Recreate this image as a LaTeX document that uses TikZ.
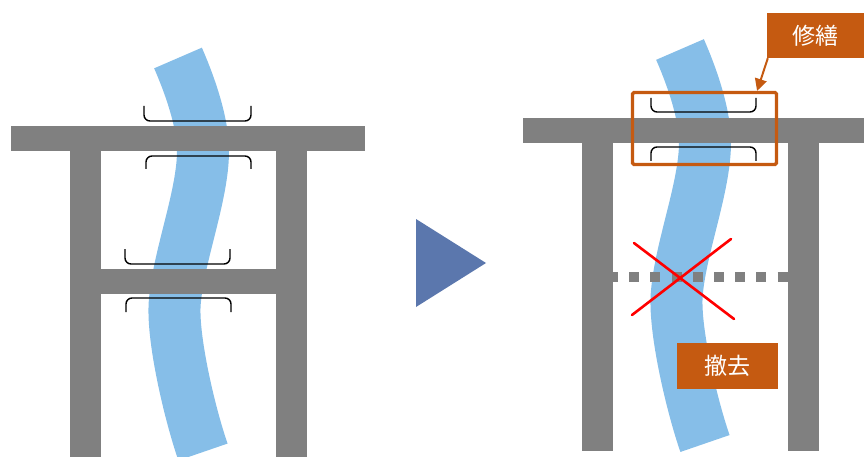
\documentclass[tikz,border=0pt]{standalone}
\usepackage{fontspec}
\newfontfamily\cjkfont{Noto Sans CJK JP}
\usepackage{tikz}
\usetikzlibrary{arrows.meta}
\definecolor{framegray}{HTML}{808080}
\definecolor{riverblue}{HTML}{86BEE8}
\definecolor{workorange}{HTML}{C55A11}
\definecolor{stepblue}{HTML}{5B77AD}
\definecolor{crossred}{HTML}{FF0000}

\begin{document}
\begin{tikzpicture}[x=1pt,y=-1pt,
  member/.style={fill=framegray},
  river/.style={draw=riverblue,line width=52pt},
  bracket/.style={draw=black,line width=1.4pt,rounded corners=6pt},
  removed/.style={draw=framegray,line width=10pt,dash pattern=on 10pt off 11.2pt},
  cross/.style={draw=crossred,line width=2.6pt,line cap=round},
  tag/.style={rectangle,fill=workorange,text=white,inner sep=0pt,
    font=\cjkfont\fontsize{23}{26}\selectfont},
  zone/.style={rectangle,draw=workorange,line width=3.2pt,rounded corners=1.5pt,inner sep=0pt},
  callout/.style={-{Triangle[length=12pt,width=12pt]},line width=2pt,workorange},
]
\useasboundingbox (0,0) rectangle (864,457);

% River (behind the frames)
\foreach \dx/\dy in {0/0,502/-8.5}
  \draw[river,shift={(\dx,\dy)}] (178,58) .. controls (192,90) and (203,125) .. (203,151)
    .. controls (203,195) and (179,255) .. (175,300)
    .. controls (171,335) and (190,415) .. (203,452);

% Left frame: before
\fill[member] (11,126) rectangle (365,151);
\fill[member] (70,151) rectangle (101,457);
\fill[member] (276,151) rectangle (307,457);
\fill[member] (101,269) rectangle (276,294);

\draw[bracket] (144,106) -- (144,121) -- (251,121) -- (251,106);
\draw[bracket] (146,169) -- (146,156) -- (251,156) -- (251,169);
\draw[bracket] (125,249) -- (125,264) -- (230,264) -- (230,249);
\draw[bracket] (126,312) -- (126,298) -- (231,298) -- (231,312);

% Step arrow
\fill[stepblue] (416,219) -- (486,263) -- (416,307) -- cycle;

% Right frame: after
\fill[member] (523,118) rectangle (864,143);
\fill[member] (582,143) rectangle (613,451);
\fill[member] (788,143) rectangle (819,451);
\draw[removed] (608,277) -- (788,277);

\draw[bracket] (651,98) -- (651,112) -- (756,112) -- (756,98);
\draw[bracket] (651,161) -- (651,147) -- (756,147) -- (756,161);

\draw[cross] (634,243) -- (734,319);
\draw[cross] (731,239) -- (632,315);

% Labels
\node[zone,minimum width=144pt,minimum height=72pt] (repairzone) at (704.5,128.5) {};
\node[tag,minimum width=97pt,minimum height=45pt] (repairlbl) at (815.5,35.5) {修繕};
\node[tag,minimum width=101pt,minimum height=46pt] (removelbl) at (727.5,366) {撤去};

\draw[callout] ([xshift=1pt]repairlbl.south west) -- ([xshift=-21pt]repairzone.north east);
\end{tikzpicture}
\end{document}
